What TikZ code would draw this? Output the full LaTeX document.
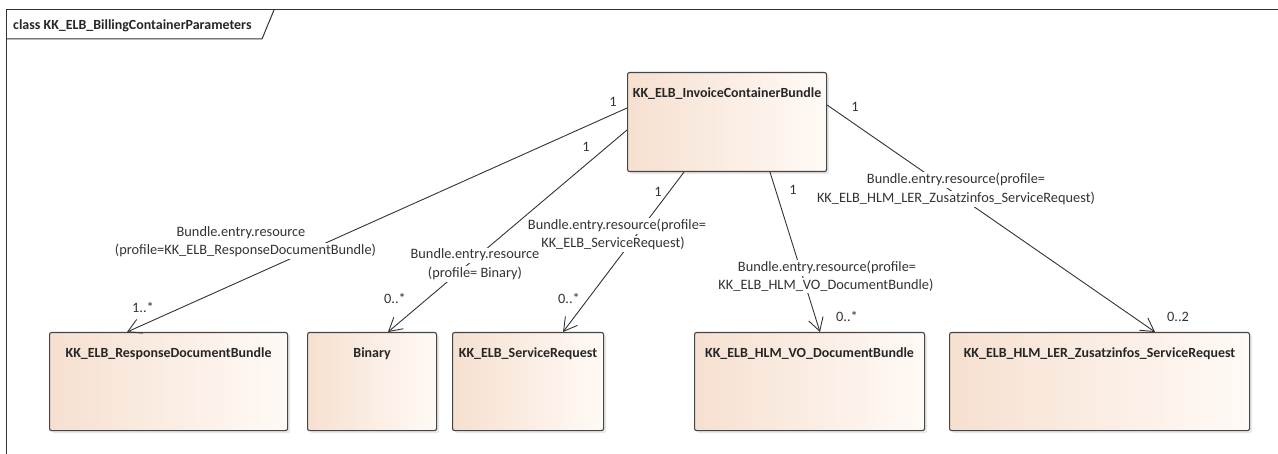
\documentclass[tikz,border=0pt]{standalone}
\usepackage{fontspec}
\setmainfont{Carlito}
\usetikzlibrary{arrows.meta,shadows,calc}
\definecolor{peachL}{RGB}{246,224,208}
\definecolor{peachR}{RGB}{255,250,246}
\definecolor{edge}{RGB}{70,70,70}
\begin{document}
\begin{tikzpicture}[x=1bp,y=-1bp,
  cls/.style={draw=edge, line width=1.1bp, rounded corners=2bp, left color=peachL, right color=peachR,
    drop shadow={opacity=0.18, shadow xshift=2.5bp, shadow yshift=-2.5bp}, anchor=north west, inner sep=0},
  ttl/.style={font=\fontsize{14}{16}\selectfont\bfseries, anchor=base, inner sep=0, text=black!85},
  lbl/.style={font=\fontsize{14.4}{16}\selectfont, fill=white, inner sep=1.5bp, anchor=base, text=black!80},
  mult/.style={font=\fontsize{14.4}{16}\selectfont, inner sep=0, anchor=base, text=black!80},
  assoc/.style={draw=black!80, line width=0.9bp, -{Straight Barb[length=13bp,width=15bp]}},
  frameline/.style={draw=black!80, line width=1bp}
]
\useasboundingbox (0,0) rectangle (1278,454);
% frame
\draw[frameline] (6,454) -- (6,10) -- (1278,10);
\draw[frameline] (6,39) -- (262,39) -- (274,10);
\node[font=\fontsize{14}{16}\selectfont\bfseries, anchor=base west, inner sep=0, text=black!85] (frametitle) at (13,30) {class KK\_ELB\_BillingContainerParameters};

% classes
\node[cls, minimum width=199bp, minimum height=99bp] (inv) at (627,72) {};
\node[cls, minimum width=238bp, minimum height=98bp] (resp) at (49,332) {};
\node[cls, minimum width=129bp, minimum height=98bp] (bin) at (307,332) {};
\node[cls, minimum width=151bp, minimum height=98bp] (sr) at (452,332) {};
\node[cls, minimum width=230bp, minimum height=98bp] (vo) at (694,332) {};
\node[cls, minimum width=300bp, minimum height=98bp] (zus) at (949,332) {};

\node[ttl] (tinv) at ([yshift=-26bp]inv.north) {KK\_ELB\_InvoiceContainerBundle};
\node[ttl] (tresp) at ([yshift=-26bp]resp.north) {KK\_ELB\_ResponseDocumentBundle};
\node[ttl] (tbin) at ([yshift=-26bp]bin.north) {Binary};
\node[ttl] (tsr) at ([yshift=-26bp]sr.north) {KK\_ELB\_ServiceRequest};
\node[ttl] (tvo) at ([yshift=-26bp]vo.north) {KK\_ELB\_HLM\_VO\_DocumentBundle};
\node[ttl] (tzus) at ([yshift=-26bp]zus.north) {KK\_ELB\_HLM\_LER\_Zusatzinfos\_ServiceRequest};

% connectors
\draw[assoc] ([yshift=-36bp]inv.north west) -- ([xshift=78bp]resp.north west);
\draw[assoc] ([yshift=-58bp]inv.north west) -- ([xshift=81bp]bin.north west);
\draw[assoc] ([xshift=57bp]inv.south west) -- ([xshift=111bp]sr.north west);
\draw[assoc] ([xshift=143bp]inv.south west) -- ([xshift=126bp]vo.north west);
\draw[assoc] ([yshift=-33bp]inv.north east) -- ([xshift=206bp]zus.north west);

% connector labels
\node[lbl] (l1a) at (241,237) {Bundle.entry.resource};
\node[lbl] (l1b) at (245.5,255) {(profile=KK\_ELB\_ResponseDocumentBundle)};
\node[lbl] (l2a) at (475,259) {Bundle.entry.resource};
\node[lbl] (l2b) at (475,278) {(profile= Binary)};
\node[lbl] (l3a) at (617,230) {Bundle.entry.resource(profile=};
\node[lbl] (l3b) at (613,248) {KK\_ELB\_ServiceRequest)};
\node[lbl] (l4a) at (827,272) {Bundle.entry.resource(profile=};
\node[lbl] (l4b) at (826,290) {KK\_ELB\_HLM\_VO\_DocumentBundle)};
\node[lbl] (l5a) at (956,184) {Bundle.entry.resource(profile=};
\node[lbl] (l5b) at (956,203) {KK\_ELB\_HLM\_LER\_Zusatzinfos\_ServiceRequest)};

% multiplicities
\node[mult] (m1s) at (613,107) {1};
\node[mult] (m2s) at (586,152) {1};
\node[mult] (m3s) at (658,197) {1};
\node[mult] (m4s) at (793,195) {1};
\node[mult] (m5s) at (855,112) {1};
\node[mult] (m1t) at (143,313) {1..*};
\node[mult] (m2t) at (395,304) {0..*};
\node[mult] (m3t) at (569,304) {0..*};
\node[mult] (m4t) at (847,322) {0..*};
\node[mult] (m5t) at (1178,322) {0..2};
\end{tikzpicture}
\end{document}
